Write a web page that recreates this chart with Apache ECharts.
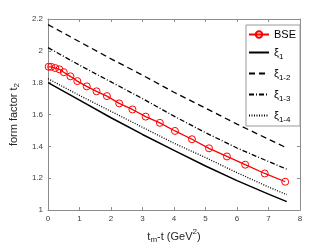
<!DOCTYPE html>
<html><head><meta charset="utf-8">
<script src="https://cdn.jsdelivr.net/npm/echarts@6/dist/echarts.min.js"></script>
<style>html,body{margin:0;padding:0;background:#fff}#c{width:332px;height:249px}</style>
</head><body><div id="c"></div>
<script>
var bseX = [0.02,0.1,0.23,0.36,0.5,0.71,0.93,1.23,1.54,1.87,2.26,2.68,3.10,3.55,4.03,4.57,5.11,5.68,6.26,6.88,7.53];
var bseY = [1.90,1.90,1.892,1.884,1.866,1.84,1.81,1.777,1.746,1.716,1.67,1.632,1.587,1.548,1.497,1.445,1.388,1.337,1.285,1.23,1.178];
var xiX = [0,1,2,3,4,5,6,7,7.58];
var xi1 = [1.80,1.69,1.58,1.475,1.375,1.277,1.185,1.10,1.053];
var xi12 = [2.165,2.057,1.95,1.847,1.74,1.64,1.54,1.445,1.39];
var xi13 = [2.02,1.91,1.805,1.70,1.59,1.486,1.39,1.305,1.257];
var xi14 = [1.825,1.72,1.62,1.52,1.42,1.33,1.235,1.145,1.097];
var legendNames = ['BSE','ξ1','ξ1-2','ξ1-3','ξ1-4'];

function pairs(xs, ys){ return xs.map(function(x,i){return [x, ys[i]];}); }
var font = 'Liberation Sans';
var axisCol = '#8c8c8c';
var labelCol = '#404040';

function lineSeries(name, data, type, width){
  return {name:name, type:'line', data:pairs(xiX,data), symbol:'none', smooth:false,
    lineStyle:{color:'#000', width:width, type:type}, itemStyle:{color:'#000'}, z:2};
}

var chart = echarts.init(document.getElementById('c'), null, {renderer:'canvas'});
chart.setOption({
  animation:false,
  grid:{left:43, right:32, top:19, bottom:35},
  xAxis:[{type:'value', min:0, max:8, interval:1,
    name:'{a|t}{s|m}{a|-t (GeV}{p|2}{a|)}', nameLocation:'middle', nameGap:18,
    nameTextStyle:{rich:{a:{fontFamily:font,fontSize:11,color:'#262626'},s:{fontFamily:font,fontSize:8,color:'#262626',verticalAlign:'bottom',padding:[0,0,-2,0]},p:{fontFamily:font,fontSize:8,color:'#262626',verticalAlign:'top',padding:[-3,0,0,0]}}},
    axisLine:{show:true,lineStyle:{color:axisCol,width:1}},
    axisTick:{inside:true,length:3,lineStyle:{color:axisCol}},
    axisLabel:{fontFamily:font,fontSize:8,color:labelCol,margin:5},
    splitLine:{show:false}},
   {type:'value', position:'top', min:0, max:8, interval:1,
    axisLine:{show:true,onZero:false,lineStyle:{color:axisCol,width:1}},
    axisTick:{inside:true,length:3,lineStyle:{color:axisCol}},
    axisLabel:{show:false}, splitLine:{show:false}}],
  yAxis:[{type:'value', min:1, max:2.2, interval:0.2,
    name:'{a|form factor t}{s|2}', nameLocation:'middle', nameGap:24,
    nameTextStyle:{rich:{a:{fontFamily:font,fontSize:11,color:'#262626'},s:{fontFamily:font,fontSize:8,color:'#262626',verticalAlign:'bottom',padding:[0,0,-2,0]}}},
    axisLine:{show:true,lineStyle:{color:axisCol,width:1}},
    axisTick:{inside:true,length:3,lineStyle:{color:axisCol}},
    axisLabel:{fontFamily:font,fontSize:8,color:labelCol,margin:5,
      formatter:function(v){return String(Math.round(v*10)/10);}},
    splitLine:{show:false}},
   {type:'value', position:'right', min:1, max:2.2, interval:0.2,
    axisLine:{show:true,onZero:false,lineStyle:{color:axisCol,width:1}},
    axisTick:{inside:true,length:3,lineStyle:{color:axisCol}},
    axisLabel:{show:false}, splitLine:{show:false}}],
  legend:{orient:'vertical', right:32, top:25, itemWidth:20, itemHeight:8, itemGap:7,
    padding:[4,4,2,2],
    backgroundColor:'#fff', borderColor:'#9a9a9a', borderWidth:1, borderRadius:0,
    textStyle:{fontFamily:font,fontSize:11,color:'#000',
      rich:{a:{fontFamily:font,fontSize:11,color:'#000'},s:{fontFamily:font,fontSize:8,color:'#000',verticalAlign:'bottom',padding:[0,0,-3,0]}}},
    formatter:function(n){
      if(n==='BSE') return '{a|BSE}';
      return '{a|ξ}{s|'+n.slice(1)+'}';
    },
    data:legendNames.map(function(n,i){
      return i===0 ? {name:n} : {name:n, itemStyle:{opacity:0}};
    })},
  series:[
    {name:'BSE', type:'line', data:pairs(bseX,bseY), symbol:'circle', symbolSize:7,
     lineStyle:{color:'#ff0000', width:1.3},
     itemStyle:{color:'rgba(255,255,255,0)', borderColor:'#ff0000', borderWidth:1}, z:3},
    lineSeries(legendNames[1], xi1, 'solid', 1.5),
    lineSeries(legendNames[2], xi12, [6,4], 1.3),
    lineSeries(legendNames[3], xi13, [5,2,1,2], 1.3),
    lineSeries(legendNames[4], xi14, [1,1.5], 1.3)
  ]
});
</script></body></html>
